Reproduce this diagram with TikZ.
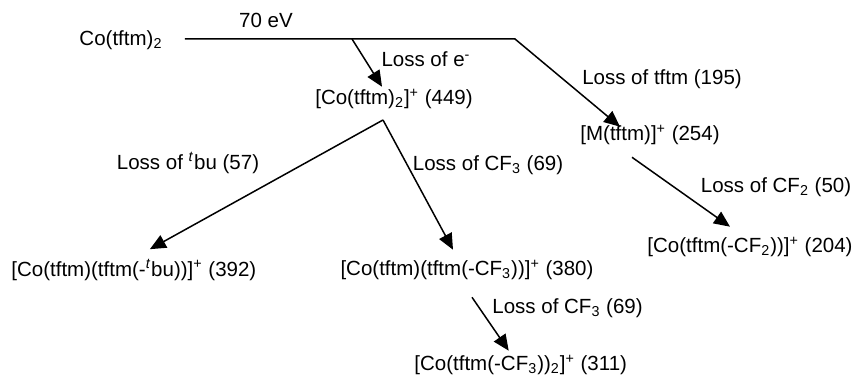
\documentclass[tikz,border=0pt]{standalone}
\usepackage{fontspec}
\setmainfont{Liberation Sans}
\usetikzlibrary{arrows.meta,positioning}

\begin{document}
\begin{tikzpicture}[
    x=0.5pt, y=-0.5pt,
    font=\fontsize{10.25}{12}\selectfont,
    species/.style={inner sep=1pt},
    loss/.style={inner sep=1pt},
    plain/.style={line width=0.75pt},
    arrow/.style={line width=0.75pt, -{Triangle[length=8pt,width=7pt]}}
]
\useasboundingbox (0,0) rectangle (855,378);

% Parent molecule
\node[species] (neutral) at (121,40) {Co(tftm)\textsubscript{2}};
\node[loss] (ev) at (266,20) {70 eV};

\coordinate (split1) at (352,39);
\coordinate (split2) at (515,39);
\coordinate (apex) at (383,120);

% Fragment ions
\node[species] (ion) at (394,99) {[Co(tftm)\textsubscript{2}]\textsuperscript{+} (449)};
\node[species] (mtftm) at (650,135) {[M(tftm)]\textsuperscript{+} (254)};
\node[species] (cf2) at (750,247) {[Co(tftm(-CF\textsubscript{2}))]\textsuperscript{+} (204)};
\node[species, anchor=west] (tbu) at (9,270) {[Co(tftm)(tftm(-\textsuperscript{\textit{t}}bu))]\textsuperscript{+} (392)};
\node[species] (cf3) at (467,270) {[Co(tftm)(tftm(-CF\textsubscript{3}))]\textsuperscript{+} (380)};
\node[species, anchor=west] (cf3two) at (412,365) {[Co(tftm(-CF\textsubscript{3}))\textsubscript{2}]\textsuperscript{+} (311)};

% Losses
\node[loss] (lossE) at (426,59) {Loss of e\textsuperscript{-}};
\node[loss] (lossTftm) at (662,79) {Loss of tftm (195)};
\node[loss] (lossCF2) at (776,187) {Loss of CF\textsubscript{2} (50)};
\node[loss] (lossBu) at (188,163) {Loss of \textsuperscript{\textit{t}}bu (57)};
\node[loss] (lossCFa) at (488,165) {Loss of CF\textsubscript{3} (69)};
\node[loss, anchor=west] (lossCFb) at (490,308) {Loss of CF\textsubscript{3} (69)};

% Connectors
\draw[arrow, shorten <=10pt] (neutral.east |- split2) -- (split2) -- ([xshift=-15pt,yshift=-2pt]mtftm.north);
\draw[arrow] (split1) -- ([xshift=-6pt]ion.north);
\draw[arrow] (apex) -- ([xshift=8pt,yshift=4pt]tbu.north);
\draw[arrow] (apex) -- ([xshift=-7pt,yshift=4pt]cf3.north);
\draw[arrow] ([xshift=2.5pt,yshift=-7.5pt]cf3.south) -- ([xshift=-6pt,yshift=1pt]cf3two.north);
\draw[arrow] ([xshift=-9pt,yshift=-5pt]mtftm.south) -- ([xshift=-10pt,yshift=4pt]cf2.north);

\end{tikzpicture}
\end{document}
